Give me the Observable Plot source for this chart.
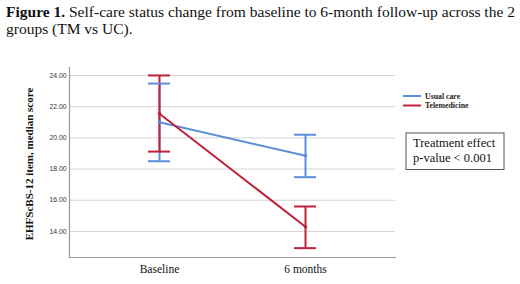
<!DOCTYPE html>
<html>
<head>
<meta charset="utf-8">
<script src="https://cdn.jsdelivr.net/npm/d3@7"></script>
<script src="https://cdn.jsdelivr.net/npm/@observablehq/plot@0.6"></script>
<style>
  html, body { margin: 0; padding: 0; background: #fff; }
  #root { position: relative; width: 520px; height: 284px; overflow: hidden; background: #fff; }
  #title { position: absolute; left: 6px; top: 3px; width: 515px; font-family: "Liberation Serif", serif; font-size: 15.5px; line-height: 17px; color: #111; }
  #title b { font-weight: bold; }
  #chart { position: absolute; left: 0; top: 44px; }
</style>
</head>
<body>
<div id="root">
  <div id="title"><b>Figure 1.</b> Self-care status change from baseline to 6-month follow-up across the 2 groups (TM vs UC).</div>
  <div id="chart"></div>
</div>
<script>
const timepoints = ["Baseline", "6 months"];
const groups = ["Usual care", "Telemedicine"];
const groupColors = ["#5b8fd6", "#c0223c"];
const usualCareMedian = [21.0, 18.85];
const usualCareLow = [18.5, 17.48];
const usualCareHigh = [23.48, 20.2];
const telemedicineMedian = [21.55, 14.3];
const telemedicineLow = [19.12, 12.93];
const telemedicineHigh = [24.0, 15.6];
const yTicks = [14, 16, 18, 20, 22, 24];
const yLabel = "EHFScBS-12 item, median score";
const noteLines = ["Treatment effect", "p-value < 0.001"];

const rows = [];
timepoints.forEach((t, i) => {
  rows.push({time: t, group: groups[0], median: usualCareMedian[i], low: usualCareLow[i], high: usualCareHigh[i]});
  rows.push({time: t, group: groups[1], median: telemedicineMedian[i], low: telemedicineLow[i], high: telemedicineHigh[i]});
});

const W = 520, H = 240;
const ML = 69, MR = 125, MT = 23, MB = 27;

const chart = Plot.plot({
  width: W,
  height: H,
  marginLeft: ML,
  marginRight: MR,
  marginTop: MT,
  marginBottom: MB,
  style: {background: "#fff", overflow: "visible"},
  x: {type: "band", domain: timepoints, paddingInner: 0.85, paddingOuter: 0.534, label: null},
  y: {domain: [12.33, 24.51], label: null},
  color: {domain: groups, range: groupColors},
  marks: [
    Plot.gridY(yTicks, {stroke: "#d4d4d4", strokeOpacity: 1, strokeWidth: 1}),
    Plot.axisY(yTicks, {tickSize: 0, tickPadding: 3, tickFormat: d => d.toFixed(2), fontSize: 6.8, fontFamily: "Liberation Sans, Arial, sans-serif", fill: "#333"}),
    Plot.axisX({tickSize: 0, tickPadding: 7, fontSize: 11.5, fontFamily: "Liberation Serif, serif", fill: "#111"}),
    Plot.frame({anchor: "left", stroke: "#999", strokeWidth: 1.2}),
    Plot.frame({anchor: "bottom", stroke: "#999", strokeWidth: 1.2}),
    Plot.line(rows, {x: "time", y: "median", z: "group", stroke: "group", strokeWidth: 2}),
    Plot.ruleX(rows, {x: "time", y1: "low", y2: "high", stroke: "group", strokeWidth: 2}),
    Plot.tickY(rows, {x: "time", y: "low", stroke: "group", strokeWidth: 2}),
    Plot.tickY(rows, {x: "time", y: "high", stroke: "group", strokeWidth: 2}),
    Plot.dot(rows, {x: "time", y: "median", fill: "group", r: 1.8})
  ]
});

document.getElementById("chart").appendChild(chart);

const svg = d3.select(chart);
// y axis title
svg.append("text")
  .attr("transform", `translate(33,${MT + (H - MT - MB) / 2 + 2}) rotate(-90)`)
  .attr("text-anchor", "middle")
  .attr("font-family", "Liberation Serif, serif")
  .attr("font-weight", "bold")
  .attr("font-size", 11)
  .attr("fill", "#111")
  .text(yLabel);

// legend
const lg = svg.append("g").attr("transform", "translate(403,52)");
groups.forEach((g, i) => {
  lg.append("line").attr("x1", 0).attr("x2", 18).attr("y1", i * 9.5).attr("y2", i * 9.5)
    .attr("stroke", groupColors[i]).attr("stroke-width", 2);
  lg.append("text").attr("x", 22).attr("y", i * 9.5 + 2.6)
    .attr("text-anchor", "start")
    .attr("font-family", "Liberation Serif, serif").attr("font-size", 7.8).attr("font-weight", "bold")
    .attr("fill", "#222").text(g);
});

// annotation box
const nb = svg.append("g").attr("transform", "translate(406,89)");
nb.append("rect").attr("x", 0).attr("y", 0).attr("width", 98).attr("height", 36.5)
  .attr("fill", "#fff").attr("stroke", "#555").attr("stroke-width", 1);
noteLines.forEach((s, i) => {
  nb.append("text").attr("x", 7).attr("y", 14 + i * 14.5)
    .attr("text-anchor", "start")
    .attr("font-family", "Liberation Serif, serif").attr("font-size", 12.5)
    .attr("fill", "#111").text(s);
});
</script>
</body>
</html>
